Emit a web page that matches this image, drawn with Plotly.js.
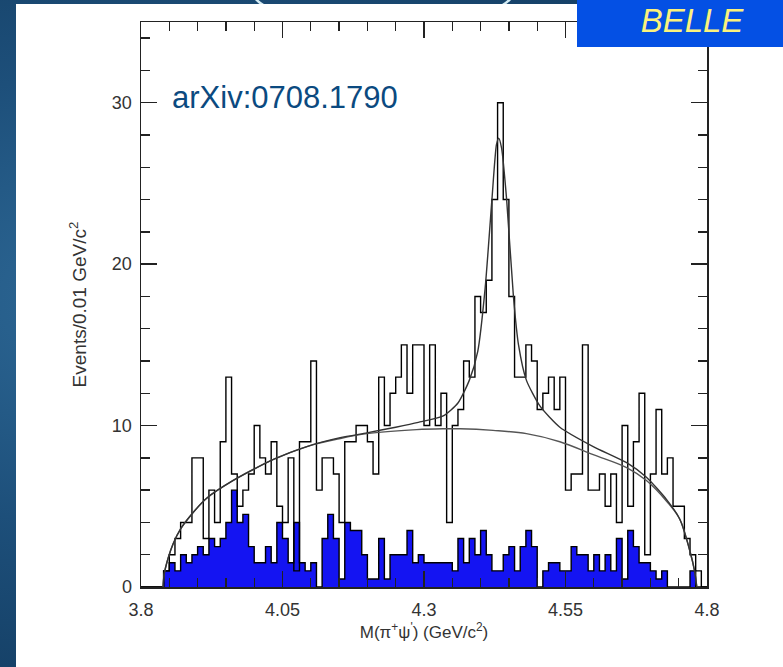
<!DOCTYPE html>
<html>
<head>
<meta charset="utf-8">
<script src="https://cdn.plot.ly/plotly-3.0.1.min.js"></script>
<style>
  html, body { margin: 0; padding: 0; }
  body { width: 783px; height: 667px; overflow: hidden; position: relative;
         background: radial-gradient(ellipse at 20% 45%, #2f6b99 0%, #1d4f7a 45%, #0f3558 100%); }
  #arc { position: absolute; left: 252px; top: -40px; width: 256px; height: 60px;
         border: 3px solid #d4ecf4; border-radius: 50%; }
  #panel { position: absolute; left: 16px; top: 4px; width: 767px; height: 663px; background: #ffffff; }
  #belleBox { position: absolute; left: 577px; top: 0px; width: 206px; height: 47px; background: #0450e4; z-index: 5; }
  #belle { position: absolute; left: 577px; top: 0px; width: 206px; height: 47px; z-index: 6;
           color: #fbf27c; font-family: 'Liberation Sans', Arial, sans-serif; font-style: italic;
           font-size: 33px; line-height: 42px; text-align: center; padding-left: 24px; box-sizing: border-box; }
  #plot { position: absolute; left: 0; top: 0; width: 783px; height: 667px; z-index: 2; }
</style>
</head>
<body>
<div id="arc"></div>
<div id="panel"></div>
<div id="plot"></div>
<div id="belleBox"></div>
<div id="belle">BELLE</div>
<script>
// bin low edges (GeV/c^2), bin width 0.01
const binEdges = [3.80,3.81,3.82,3.83,3.84,3.85,3.86,3.87,3.88,3.89,
  3.90,3.91,3.92,3.93,3.94,3.95,3.96,3.97,3.98,3.99,
  4.00,4.01,4.02,4.03,4.04,4.05,4.06,4.07,4.08,4.09,
  4.10,4.11,4.12,4.13,4.14,4.15,4.16,4.17,4.18,4.19,
  4.20,4.21,4.22,4.23,4.24,4.25,4.26,4.27,4.28,4.29,
  4.30,4.31,4.32,4.33,4.34,4.35,4.36,4.37,4.38,4.39,
  4.40,4.41,4.42,4.43,4.44,4.45,4.46,4.47,4.48,4.49,
  4.50,4.51,4.52,4.53,4.54,4.55,4.56,4.57,4.58,4.59,
  4.60,4.61,4.62,4.63,4.64,4.65,4.66,4.67,4.68,4.69,
  4.70,4.71,4.72,4.73,4.74,4.75,4.76,4.77,4.78,4.79,4.80];

// data events per bin
const dataCounts = [0,0,0,0,1,2,3,4,4,8, 8,3,6,4,9,13,7,5,6,7,
  10,8,7,9,5,4,8,1,9,9, 14,6,8,8,7,4,9,9,10,10,
  9,7,13,10,12,13,15,12,15,15, 10,15,10,12,4,10,11,14,13,18,
  17,19,24,30,24,18,13,13,15,14, 11,12,13,11,13,6,7,7,15,6,
  6,7,5,7,4,10,5,9,12,2, 7,11,7,8,5,5,3,2,1,0];

// sideband (background) histogram per bin
const sidebandCounts = [0,0,0,0,1,1.5,1,2,1.5,2, 2.5,2,3,2.5,3,4,6,4,4.5,2.5,
  1.5,1.5,2.5,1.5,4,3,1.5,4,1.5,1, 1.5,0,3,4.5,3,0.5,4,3.5,3.5,2,
  0.5,0.5,3,0.5,2,2,2,3.5,1.5,2, 1.5,1.5,1.5,1.5,1.5,1,3,1.5,3,2,
  3.5,2,1,1,2,2.5,1,2.5,3.5,2.5, 0,1,1.5,1.5,1,1,2.5,2,2,1,
  2,1,2,1,3,0.5,3.5,2.5,1.5,1.5, 1,0.5,1,0,0,0,0,1,0,0];

// background fit curve
const bkgX = [3.839,3.841,3.848,3.857,3.870,3.887,3.916,3.963,4.034,4.093,4.152,4.199,4.287,4.334,4.364,4.422,4.481,4.540,4.599,4.658,4.693,4.729,4.752,4.770,4.778,4.782];
const bkgY = [0,0.8,1.8,2.7,3.6,4.4,5.5,6.6,7.9,8.7,9.2,9.5,9.75,9.8,9.8,9.7,9.5,9.0,8.2,7.4,6.6,5.3,4.2,2.2,1.0,0];

// total fit curve (signal + background)
const totX = [3.839,3.841,3.848,3.857,3.870,3.887,3.916,3.963,4.034,4.093,4.152,4.199,4.250,4.290,4.334,4.360,4.380,4.395,4.408,4.420,4.428,4.432,4.437,4.446,4.458,4.467,4.481,4.505,4.540,4.599,4.658,4.693,4.729,4.752,4.770,4.778,4.782];
const totY = [0,0.8,1.8,2.7,3.6,4.4,5.5,6.6,7.9,8.7,9.25,9.55,9.9,10.2,10.6,11.4,12.8,14.6,18.5,24.0,27.4,27.8,27.2,24.0,18.0,15.0,12.8,11.2,9.9,8.7,7.7,6.8,5.4,4.2,2.2,1.0,0];

function stepY(v) { return v.concat([v[v.length - 1]]); }

const traces = [
  {
    x: binEdges, y: stepY(sidebandCounts), type: 'scatter', mode: 'lines',
    line: {shape: 'hv', color: '#000000', width: 1.4},
    fill: 'tozeroy', fillcolor: '#1414f2', hoverinfo: 'skip'
  },
  {
    x: binEdges, y: stepY(dataCounts), type: 'scatter', mode: 'lines',
    line: {shape: 'hv', color: '#000000', width: 1.4}, hoverinfo: 'skip'
  },
  {
    x: bkgX, y: bkgY, type: 'scatter', mode: 'lines',
    line: {shape: 'spline', smoothing: 1, color: '#555555', width: 1.4}, hoverinfo: 'skip'
  },
  {
    x: totX, y: totY, type: 'scatter', mode: 'lines',
    line: {shape: 'spline', smoothing: 0.6, color: '#333333', width: 1.4}, hoverinfo: 'skip'
  }
];

const tickFont = {family: 'Liberation Sans, Arial, sans-serif', size: 18, color: '#333333'};

const layout = {
  width: 783, height: 667,
  margin: {l: 141, r: 76, t: 22, b: 80, pad: 0},
  paper_bgcolor: 'rgba(0,0,0,0)', plot_bgcolor: '#ffffff',
  showlegend: false,
  xaxis: {
    range: [3.8, 4.8], tickmode: 'array', tickvals: [3.8, 4.05, 4.3, 4.55, 4.8],
    ticktext: ['3.8', '4.05', '4.3', '4.55', '4.8'],
    ticks: 'inside', ticklen: 16, tickwidth: 1.3, tickcolor: '#222',
    minor: {dtick: 0.05, tick0: 3.8, ticks: 'inside', ticklen: 9, tickwidth: 1.3, tickcolor: '#222', showgrid: false},
    showline: true, linecolor: '#222', linewidth: 1.5, mirror: 'ticks',
    showgrid: false, zeroline: false, tickfont: tickFont, ticklabelstandoff: 6,
    title: {text: 'M(π<sup>+</sup>ψ<sup>\'</sup>) (GeV/c<sup>2</sup>)',
            font: {family: 'Liberation Sans, Arial, sans-serif', size: 17, color: '#333333'}, standoff: 6}
  },
  yaxis: {
    range: [0, 35], tickmode: 'array', tickvals: [0, 10, 20, 30],
    ticks: 'inside', ticklen: 16, tickwidth: 1.3, tickcolor: '#222',
    minor: {dtick: 2, tick0: 0, ticks: 'inside', ticklen: 9, tickwidth: 1.3, tickcolor: '#222', showgrid: false},
    showline: true, linecolor: '#222', linewidth: 1.5, mirror: 'ticks',
    showgrid: false, zeroline: false, tickfont: tickFont, ticklabelstandoff: 4,
    title: {text: 'Events/0.01 GeV/c<sup>2</sup>',
            font: {family: 'Liberation Sans, Arial, sans-serif', size: 19, color: '#333333'}, standoff: 20}
  },
  annotations: [
    {x: 3.851, y: 30.3, xref: 'x', yref: 'y', xanchor: 'left', yanchor: 'middle',
     text: 'arXiv:0708.1790', showarrow: false,
     font: {family: 'Liberation Sans, Arial, sans-serif', size: 31, color: '#0b4a80'}}
  ]
};

Plotly.newPlot('plot', traces, layout, {displayModeBar: false, staticPlot: true});
</script>
</body>
</html>
